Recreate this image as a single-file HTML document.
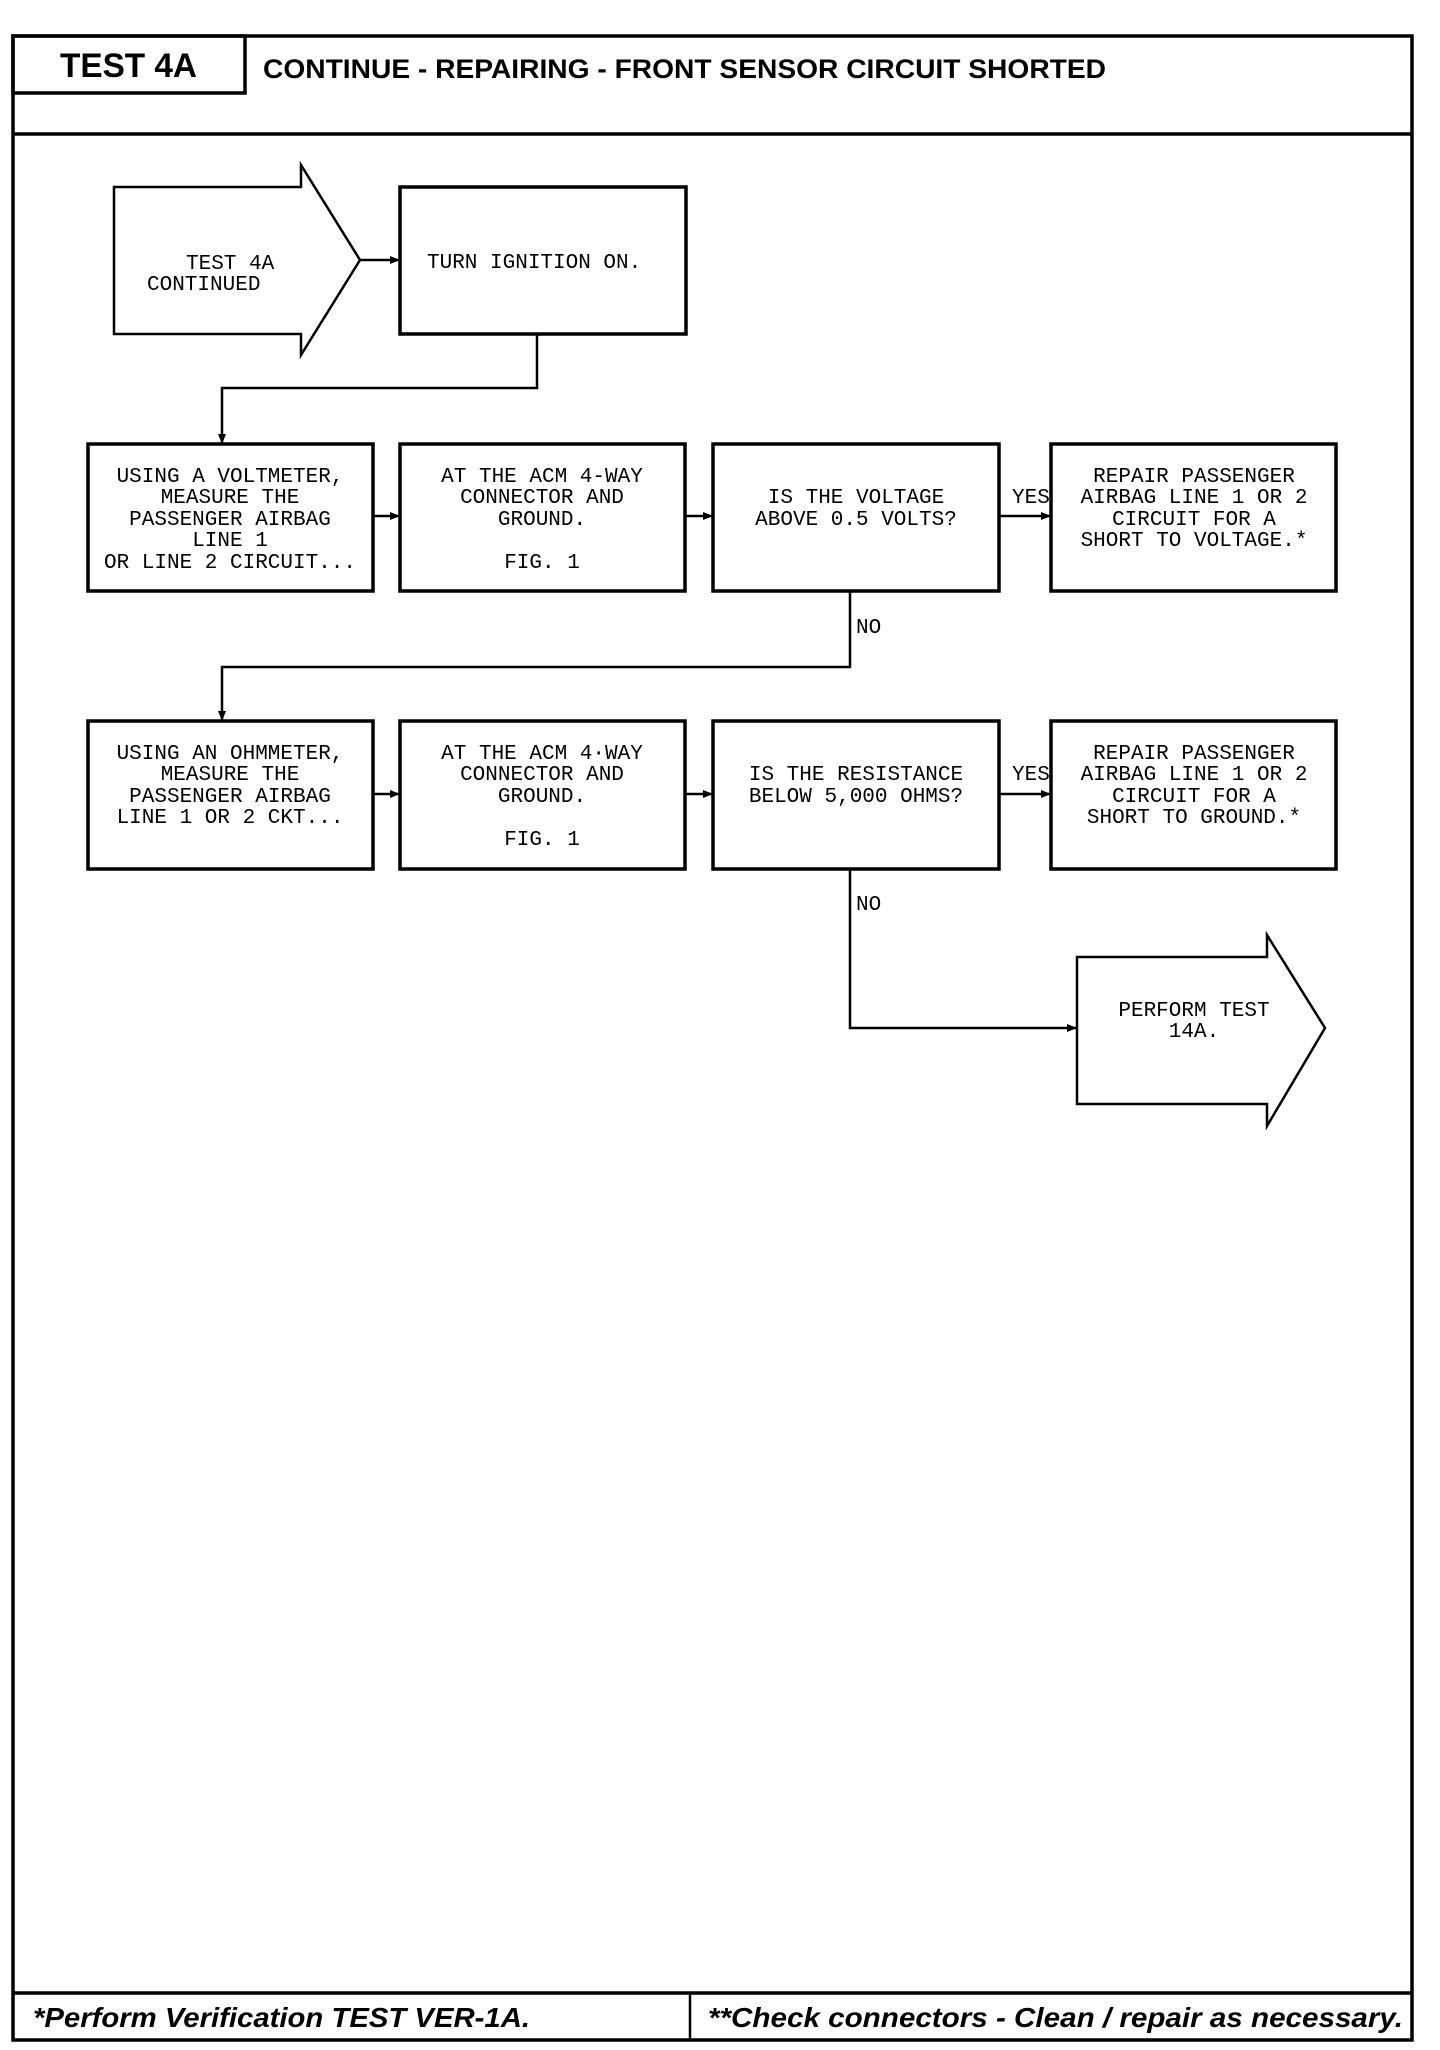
<!DOCTYPE html>
<html><head><meta charset="utf-8"><style>
html,body{margin:0;padding:0;background:#fff}
svg{display:block}
.m{font-family:"Liberation Mono",monospace;font-size:21px;fill:#000}
</style></head><body>
<svg width="1440" height="2050" viewBox="0 0 1440 2050" xmlns="http://www.w3.org/2000/svg">
<defs><marker id="a" markerWidth="10" markerHeight="10" refX="9" refY="5" orient="auto" markerUnits="userSpaceOnUse"><path d="M0,1 L10,5 L0,9 Z" fill="#000"/></marker></defs>
<g fill="none" stroke="#000" stroke-width="3.5">
<rect x="13" y="36" width="1399" height="2004"/>
<rect x="13" y="36" width="232" height="57"/>
<line x1="13" y1="134" x2="1412" y2="134"/>
<line x1="13" y1="1993" x2="1412" y2="1993"/>
<line x1="690" y1="1993" x2="690" y2="2040" stroke-width="2.5"/>
<polygon points="114,187 301,187 301,165 360,260 301,355 301,334 114,334" stroke-width="2.5"/>
<rect x="400" y="187" width="286" height="147"/>
<rect x="88" y="444" width="285" height="147"/>
<rect x="400" y="444" width="285" height="147"/>
<rect x="713" y="444" width="286" height="147"/>
<rect x="1051" y="444" width="285" height="147"/>
<rect x="88" y="721" width="285" height="148"/>
<rect x="400" y="721" width="285" height="148"/>
<rect x="713" y="721" width="286" height="148"/>
<rect x="1051" y="721" width="285" height="148"/>
<polygon points="1077,957 1267,957 1267,935 1325,1028 1267,1126 1267,1104 1077,1104" stroke-width="2.5"/>
</g>
<g fill="none" stroke="#000" stroke-width="2.5" marker-end="url(#a)">
<line x1="360" y1="260" x2="399" y2="260"/>
<polyline points="537,334 537,388 222,388 222,443"/>
<line x1="373" y1="516" x2="399" y2="516"/>
<line x1="685" y1="516" x2="712" y2="516"/>
<line x1="999" y1="516" x2="1050" y2="516"/>
<polyline points="850,591 850,667 222,667 222,720"/>
<line x1="373" y1="794" x2="399" y2="794"/>
<line x1="685" y1="794" x2="712" y2="794"/>
<line x1="999" y1="794" x2="1050" y2="794"/>
<polyline points="850,869 850,1028 1076,1028"/>
</g>
<text x="60" y="77" font-family="Liberation Sans,sans-serif" font-weight="bold" font-size="34" textLength="137" lengthAdjust="spacingAndGlyphs">TEST 4A</text>
<text x="263" y="78" font-family="Liberation Sans,sans-serif" font-weight="bold" font-size="27" textLength="843" lengthAdjust="spacingAndGlyphs">CONTINUE - REPAIRING - FRONT SENSOR CIRCUIT SHORTED</text>
<text x="33" y="2027" font-family="Liberation Sans,sans-serif" font-weight="bold" font-style="italic" font-size="28" textLength="497" lengthAdjust="spacingAndGlyphs">*Perform Verification TEST VER-1A.</text>
<text x="708" y="2027" font-family="Liberation Sans,sans-serif" font-weight="bold" font-style="italic" font-size="28" textLength="695" lengthAdjust="spacingAndGlyphs">**Check connectors - Clean / repair as necessary.</text>
<g class="m">
<text x="186" y="269">TEST 4A</text>
<text x="147" y="290">CONTINUED</text>
<text x="427" y="268">TURN IGNITION ON.</text>
</g>
<g class="m" text-anchor="middle">
<text x="230" y="482">USING A VOLTMETER,</text>
<text x="230" y="503">MEASURE THE</text>
<text x="230" y="525">PASSENGER AIRBAG</text>
<text x="230" y="546">LINE 1</text>
<text x="230" y="568">OR LINE 2 CIRCUIT...</text>
<text x="542" y="482">AT THE ACM 4-WAY</text>
<text x="542" y="503">CONNECTOR AND</text>
<text x="542" y="525">GROUND.</text>
<text x="542" y="568">FIG. 1</text>
<text x="856" y="503">IS THE VOLTAGE</text>
<text x="856" y="525">ABOVE 0.5 VOLTS?</text>
<text x="1194" y="482">REPAIR PASSENGER</text>
<text x="1194" y="503">AIRBAG LINE 1 OR 2</text>
<text x="1194" y="525">CIRCUIT FOR A</text>
<text x="1194" y="546">SHORT TO VOLTAGE.*</text>
<text x="230" y="759">USING AN OHMMETER,</text>
<text x="230" y="780">MEASURE THE</text>
<text x="230" y="802">PASSENGER AIRBAG</text>
<text x="230" y="823">LINE 1 OR 2 CKT...</text>
<text x="542" y="759">AT THE ACM 4·WAY</text>
<text x="542" y="780">CONNECTOR AND</text>
<text x="542" y="802">GROUND.</text>
<text x="542" y="845">FIG. 1</text>
<text x="856" y="780">IS THE RESISTANCE</text>
<text x="856" y="802">BELOW 5,000 OHMS?</text>
<text x="1194" y="759">REPAIR PASSENGER</text>
<text x="1194" y="780">AIRBAG LINE 1 OR 2</text>
<text x="1194" y="802">CIRCUIT FOR A</text>
<text x="1194" y="823">SHORT TO GROUND.*</text>
<text x="1194" y="1016">PERFORM TEST</text>
<text x="1194" y="1037">14A.</text>
</g>
<g class="m">
<text x="1012" y="503">YES</text>
<text x="1012" y="780">YES</text>
<text x="856" y="633">NO</text>
<text x="856" y="910">NO</text>
</g>
</svg>
</body></html>
